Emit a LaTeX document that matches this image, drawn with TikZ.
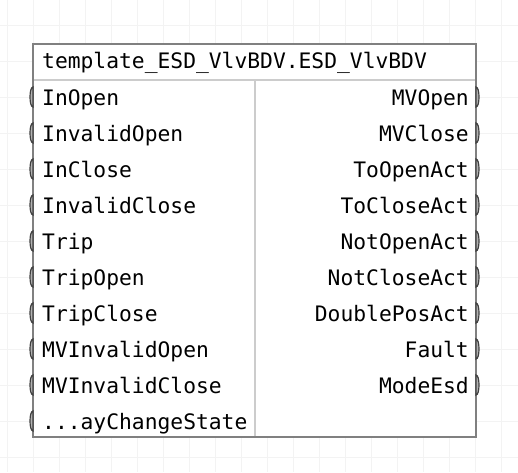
\documentclass[tikz,border=0pt]{standalone}
\usepackage{fontspec}
\setmonofont{DejaVu Sans Mono}
\definecolor{gridgray}{HTML}{F3F3F3}
\definecolor{sepgray}{HTML}{CCCCCC}
\definecolor{framegray}{HTML}{808080}
\tikzset{
  gridline/.style={gridgray, line width=1pt},
  sepline/.style={sepgray, line width=1.5pt},
  frame/.style={framegray, line width=1.8pt},
  port/.style={font=\ttfamily\fontsize{21.3}{25}\selectfont, inner sep=0pt},
  pin/.style={fill=gray!60, draw=black!75, line width=1.2pt}
}
\begin{document}
\begin{tikzpicture}[x=1pt,y=-1pt]
\useasboundingbox (0,0) rectangle (518,472);
% 背景网格
\foreach \gx in {7,33,...,507}
    \draw[gridline] (\gx,0) -- (\gx,472);
\foreach \gy in {25,61,...,462}
    \draw[gridline] (0,\gy) -- (518,\gy);

% 方框
\coordinate (NW) at (33,44);
\coordinate (SE) at (476,437);
\fill[white] (NW) rectangle (SE);
\draw[sepline] (33,80) -- (476,80);
\draw[sepline] (255,80) -- (255,437);
\draw[frame] (NW) rectangle (SE);

% 标题
\node[port, anchor=base west] (title) at (42,68) {template\_ESD\_VlvBDV.ESD\_VlvBDV};

% 输入端口
\foreach \name [count=\i] in {InOpen,InvalidOpen,InClose,InvalidClose,Trip,TripOpen,TripClose,MVInvalidOpen,MVInvalidClose,{.{}.{}.ayChangeState}} {
    \pgfmathsetmacro{\py}{97+36*(\i-1)}
    \node[port, anchor=base west] (in\i) at (42,\py+8) {\name};
    \draw[pin] (33,\py-10) .. controls (29,\py-10) and (29,\py+10) .. (33,\py+10) -- cycle;
}

% 输出端口
\foreach \name [count=\i] in {MVOpen,MVClose,ToOpenAct,ToCloseAct,NotOpenAct,NotCloseAct,DoublePosAct,Fault,ModeEsd} {
    \pgfmathsetmacro{\py}{97+36*(\i-1)}
    \node[port, anchor=base east] (out\i) at (469,\py+8) {\name};
    \draw[pin] (476,\py-10) .. controls (480,\py-10) and (480,\py+10) .. (476,\py+10) -- cycle;
}
\end{tikzpicture}
\end{document}
